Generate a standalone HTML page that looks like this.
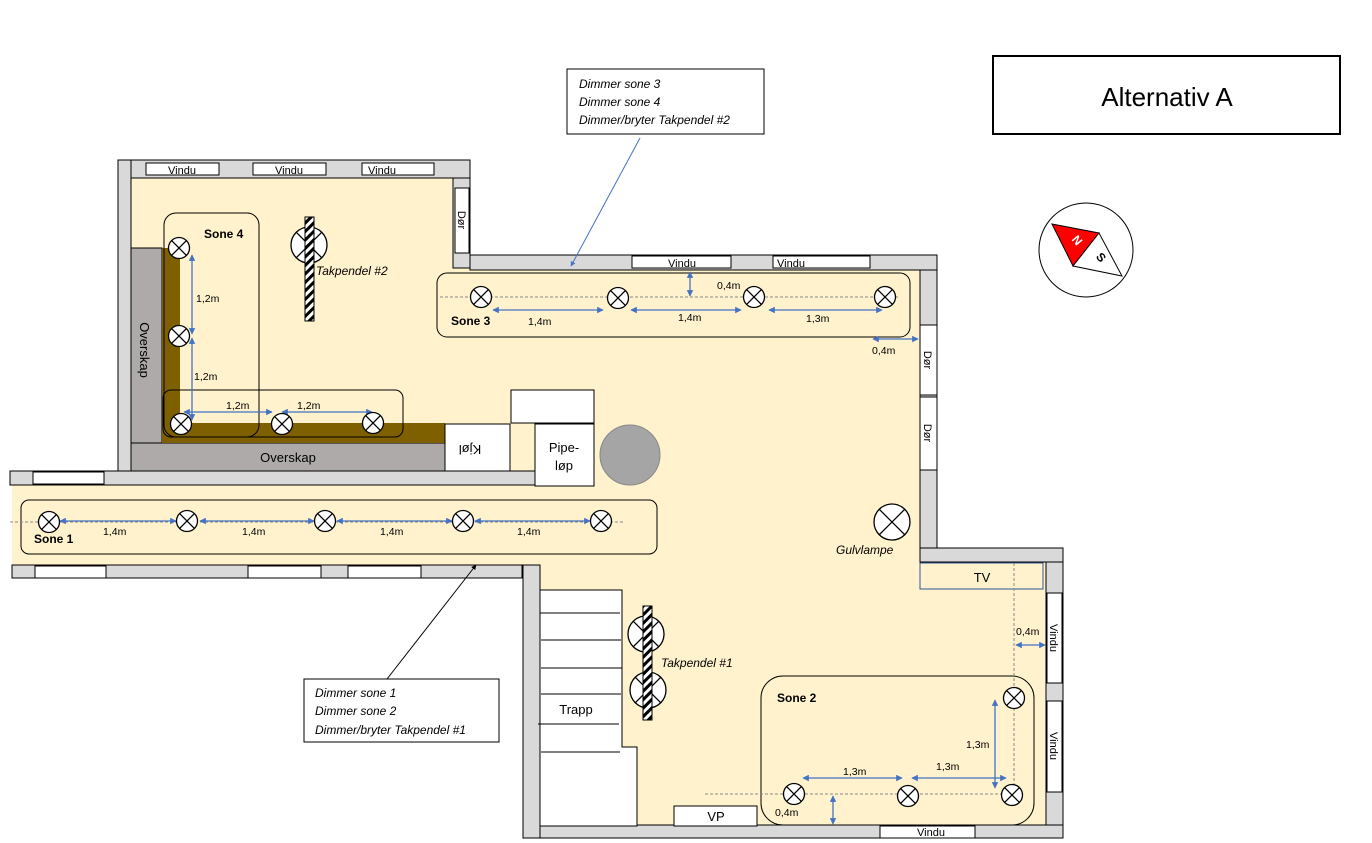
<!DOCTYPE html>
<html><head><meta charset="utf-8"><style>
html,body{margin:0;padding:0;background:#fff;}
svg{display:block;}
text{font-family:"Liberation Sans",sans-serif;}
</style></head><body>
<svg width="1372" height="843" viewBox="0 0 1372 843" xmlns="http://www.w3.org/2000/svg">
<defs>
<marker id="ab" viewBox="0 0 10 10" refX="9" refY="5" markerWidth="5" markerHeight="5" orient="auto"><path d="M0,0L10,5L0,10z" fill="#4472C4"/></marker>
<marker id="as" viewBox="0 0 10 10" refX="1" refY="5" markerWidth="5" markerHeight="5" orient="auto"><path d="M10,0L0,5L10,10z" fill="#4472C4"/></marker>
<marker id="ak" viewBox="0 0 10 10" refX="9" refY="5" markerWidth="5" markerHeight="5" orient="auto"><path d="M0,0L10,5L0,10z" fill="#000"/></marker>
<pattern id="hatch" width="6" height="6" patternUnits="userSpaceOnUse" patternTransform="rotate(45)"><rect width="6" height="6" fill="#fff"/><rect width="3" height="6" fill="#000"/></pattern>
<g id="L"><circle r="10.5" fill="#fff" stroke="#000" stroke-width="1.3"/><path d="M-7.4,-7.4L7.4,7.4M-7.4,7.4L7.4,-7.4" stroke="#000" stroke-width="1.3"/></g>
<g id="B"><circle r="18" fill="#fff" stroke="#000" stroke-width="1.3"/><path d="M-12.7,-12.7L12.7,12.7M-12.7,12.7L12.7,-12.7" stroke="#000" stroke-width="1.3"/></g>
</defs>
<g fill="#FFF2CC">
<rect x="131" y="178" width="322" height="294"/>
<rect x="453" y="268" width="467" height="300"/>
<rect x="12" y="485" width="530" height="80"/>
<rect x="540" y="560" width="506" height="266"/>
</g>
<g fill="#D9D9D9" stroke="#000" stroke-width="1">
<rect x="118" y="160" width="13" height="312"/>
<rect x="131" y="160" width="339" height="18"/>
<rect x="453" y="178" width="17" height="90"/>
<rect x="470" y="255" width="467" height="15"/>
<rect x="920" y="270" width="17" height="278"/>
<rect x="10" y="471" width="525" height="14"/>
<rect x="12" y="565" width="510" height="13"/>
<rect x="523" y="565" width="17" height="273"/>
<rect x="540" y="825" width="523" height="13"/>
<rect x="920" y="548" width="143" height="14"/>
<rect x="1046" y="562" width="17" height="263"/>
</g>
<g fill="#fff" stroke="#000" stroke-width="1">
<rect x="146" y="163" width="73" height="12"/><rect x="253" y="163" width="73" height="12"/><rect x="362" y="163" width="72" height="12"/>
<rect x="455" y="188" width="14" height="65"/>
<rect x="632" y="256" width="99" height="12"/><rect x="773" y="256" width="97" height="12"/>
<rect x="920" y="325" width="17" height="70"/><rect x="920" y="397" width="17" height="73"/>
<rect x="33" y="472" width="71" height="12"/>
<rect x="35" y="566" width="71" height="12"/><rect x="248" y="566" width="73" height="12"/><rect x="348" y="566" width="73" height="12"/>
<rect x="1047" y="593" width="15" height="90"/><rect x="1047" y="701" width="15" height="91"/>
<rect x="880" y="826" width="95" height="12"/>
</g>
<g font-size="11" fill="#000">
<text x="182" y="174" text-anchor="middle">Vindu</text><text x="289" y="174" text-anchor="middle">Vindu</text><text x="382" y="174" text-anchor="middle">Vindu</text>
<text x="682" y="267" text-anchor="middle">Vindu</text><text x="791" y="267" text-anchor="middle">Vindu</text>
<text x="931" y="836" text-anchor="middle">Vindu</text>
<text transform="translate(458,220) rotate(90)" text-anchor="middle">Dør</text>
<text transform="translate(924,360) rotate(90)" text-anchor="middle">Dør</text>
<text transform="translate(924,433) rotate(90)" text-anchor="middle">Dør</text>
<text transform="translate(1050,638) rotate(90)" text-anchor="middle">Vindu</text>
<text transform="translate(1050,746) rotate(90)" text-anchor="middle">Vindu</text>
</g>
<rect x="131" y="248" width="31" height="195" fill="#AEAAAA" stroke="#000"/>
<rect x="131" y="443" width="314" height="28" fill="#AEAAAA" stroke="#000"/>
<rect x="162" y="248" width="18" height="175" fill="#7F6000"/>
<rect x="162" y="423" width="283" height="20" fill="#7F6000"/>
<text transform="translate(140,350) rotate(90)" font-size="13" text-anchor="middle">Overskap</text>
<text x="288" y="462" font-size="13" text-anchor="middle">Overskap</text>
<rect x="445" y="424" width="65" height="47" fill="#fff" stroke="#000"/>
<text transform="translate(470,445) rotate(180)" font-size="13" text-anchor="middle">Kjøl</text>
<rect x="511" y="390" width="83" height="33" fill="#fff" stroke="#000"/>
<rect x="535" y="424" width="59" height="62" fill="#fff" stroke="#000"/>
<text x="564" y="452" font-size="13" text-anchor="middle">Pipe-</text>
<text x="564" y="470" font-size="13" text-anchor="middle">løp</text>
<circle cx="630" cy="455" r="30" fill="#A5A5A5" stroke="#888"/>
<path d="M540,590H622V747H637V826H540Z" fill="#fff" stroke="#000"/>
<g stroke="#000"><path d="M540,613H620M541,640H621M541,668H622M541,694H621M538,724H619M541,752H620"/></g>
<text x="576" y="714" font-size="13" text-anchor="middle">Trapp</text>
<rect x="674" y="806" width="83" height="20" fill="#fff" stroke="#000"/>
<text x="716" y="821" font-size="13" text-anchor="middle">VP</text>
<rect x="920" y="563" width="123" height="26" fill="none" stroke="#2F5597"/>
<text x="982" y="582" font-size="13" text-anchor="middle">TV</text>
<g fill="none" stroke="#000" stroke-width="1">
<rect x="164" y="213" width="95" height="224" rx="12"/>
<rect x="163" y="390" width="240" height="47" rx="8"/>
<rect x="437" y="273" width="473" height="64" rx="10"/>
<rect x="21" y="500" width="636" height="54" rx="8"/>
<rect x="761" y="676" width="273" height="149" rx="22"/>
</g>
<g stroke="#888" stroke-dasharray="3,2" stroke-width="1">
<path d="M440,297H900M10,522H625M1014,563V790M705,794H1015"/>
</g>
<g font-size="12" font-weight="bold">
<text x="204" y="238">Sone 4</text><text x="451" y="325">Sone 3</text><text x="34" y="543">Sone 1</text><text x="777" y="702">Sone 2</text>
</g>
<g stroke="#4472C4" stroke-width="1.3" fill="none" marker-start="url(#as)" marker-end="url(#ab)">
<path d="M192,255V334"/><path d="M192,338V420"/><path d="M184,412H272"/><path d="M282,412H372"/>
<path d="M493,310H603"/><path d="M631,310H741"/><path d="M769,310H882"/><path d="M690,272V296"/><path d="M873,339H918"/>
<path d="M60,521H176"/><path d="M200,521H314"/><path d="M337,521H452"/><path d="M475,521H590"/>
<path d="M803,778H902"/><path d="M912,778H1006"/><path d="M995,700V788"/><path d="M833,796V824"/><path d="M1016,645H1045"/>
</g>
<g font-size="10.5" fill="#000">
<text x="196" y="302">1,2m</text><text x="194" y="380">1,2m</text><text x="226" y="409">1,2m</text><text x="297" y="409">1,2m</text>
<text x="528" y="325">1,4m</text><text x="678" y="321">1,4m</text><text x="806" y="322">1,3m</text><text x="717" y="289">0,4m</text><text x="872" y="354">0,4m</text>
<text x="103" y="535">1,4m</text><text x="242" y="535">1,4m</text><text x="380" y="535">1,4m</text><text x="517" y="535">1,4m</text>
<text x="843" y="775">1,3m</text><text x="936" y="770">1,3m</text><text x="966" y="748">1,3m</text><text x="775" y="816">0,4m</text><text x="1016" y="635">0,4m</text>
</g>
<use href="#L" x="179" y="248"/><use href="#L" x="179" y="336"/><use href="#L" x="181" y="424"/><use href="#L" x="282" y="424"/><use href="#L" x="373" y="423"/>
<use href="#L" x="481" y="297"/><use href="#L" x="618" y="298"/><use href="#L" x="754" y="297"/><use href="#L" x="885" y="297"/>
<use href="#L" x="49" y="522"/><use href="#L" x="187" y="521"/><use href="#L" x="325" y="521"/><use href="#L" x="463" y="521"/><use href="#L" x="601" y="521"/>
<use href="#L" x="1014" y="698"/><use href="#L" x="794" y="794"/><use href="#L" x="908" y="796"/><use href="#L" x="1012" y="795"/>
<use href="#B" x="892" y="522"/>
<text x="836" y="554" font-size="12" font-style="italic">Gulvlampe</text>
<use href="#B" x="309" y="245"/>
<rect x="305" y="217" width="9" height="104" fill="url(#hatch)" stroke="#000"/>
<text x="316" y="275" font-size="12" font-style="italic">Takpendel #2</text>
<use href="#B" x="646" y="634"/><use href="#B" x="648" y="690"/>
<rect x="643" y="606" width="9" height="114" fill="url(#hatch)" stroke="#000"/>
<text x="661" y="667" font-size="12" font-style="italic">Takpendel #1</text>
<rect x="567" y="69" width="197" height="65" fill="#fff" stroke="#000"/>
<g font-size="12" font-style="italic"><text x="579" y="88">Dimmer sone 3</text><text x="579" y="106">Dimmer sone 4</text><text x="579" y="124">Dimmer/bryter Takpendel #2</text></g>
<path d="M640,138L571,266" stroke="#4472C4" stroke-width="1" marker-end="url(#ab)"/>
<rect x="304" y="679" width="195" height="63" fill="#fff" stroke="#000"/>
<g font-size="12" font-style="italic"><text x="315" y="697">Dimmer sone 1</text><text x="315" y="715">Dimmer sone 2</text><text x="315" y="734">Dimmer/bryter Takpendel #1</text></g>
<path d="M387,679L476,565" stroke="#000" stroke-width="1" marker-end="url(#ak)"/>
<rect x="993" y="56" width="347" height="78" fill="#fff" stroke="#000" stroke-width="2"/>
<text x="1167" y="106" font-size="26" text-anchor="middle">Alternativ A</text>
<circle cx="1086" cy="250" r="47" fill="#fff" stroke="#000"/>
<path d="M1052,224L1099,233L1073,266Z" fill="#f00" stroke="#000"/>
<path d="M1099,233L1073,266L1122,276Z" fill="#fff" stroke="#000"/>
<text transform="translate(1074,243) rotate(50)" font-size="12" font-weight="bold" fill="#fff" text-anchor="middle">N</text>
<text transform="translate(1098,260) rotate(50)" font-size="12" font-weight="bold" text-anchor="middle">S</text>
</svg>
</body></html>
